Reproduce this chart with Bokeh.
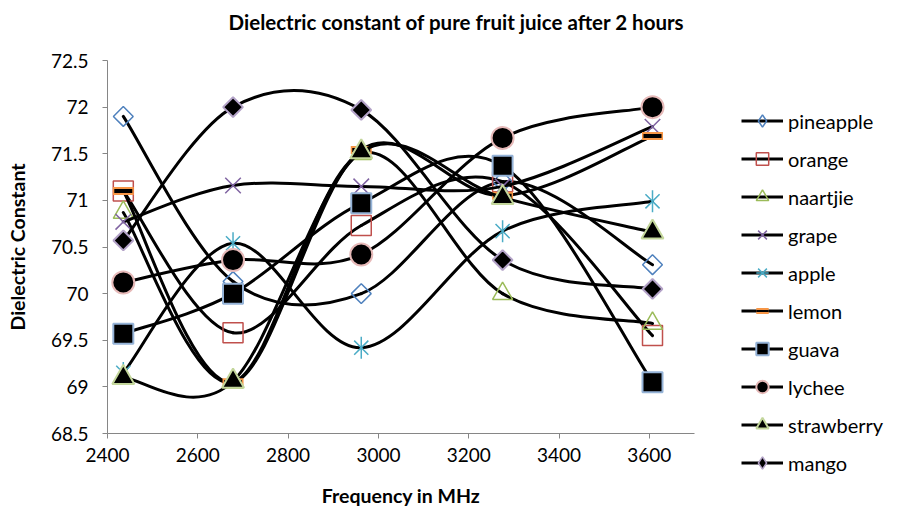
import numpy as np
from bokeh.plotting import figure
from bokeh.layouts import row, column
from bokeh.models import Range1d, FixedTicker, Legend, LegendItem, Label
from bokeh.embed import file_html
from bokeh.resources import INLINE

# ---------------- data ----------------
freq = [2435, 2678, 2962, 3275, 3607]

pineapple = [71.90, 70.13, 70.00, 71.20, 70.31]
orange = [71.10, 69.58, 70.73, 71.20, 69.55]
naartjie = [70.87, 69.05, 71.50, 70.00, 69.68]
grape = [70.77, 71.16, 71.15, 71.15, 71.79]
apple = [69.15, 70.54, 69.42, 70.67, 70.99]
lemon = [71.10, 69.05, 71.54, 71.05, 71.69]
guava = [69.57, 70.00, 70.97, 71.37, 69.05]
lychee = [70.12, 70.36, 70.42, 71.67, 72.00]
strawberry = [69.10, 69.06, 71.52, 71.03, 70.66]
mango = [70.57, 72.00, 71.97, 70.36, 70.05]

series_names = ["pineapple", "orange", "naartjie", "grape", "apple",
                "lemon", "guava", "lychee", "strawberry", "mango"]
series_values = [pineapple, orange, naartjie, grape, apple,
                 lemon, guava, lychee, strawberry, mango]

x_ticks = [2400, 2600, 2800, 3000, 3200, 3400, 3600]
y_ticks = [68.5, 69, 69.5, 70, 70.5, 71, 71.5, 72, 72.5]
y_tick_labels = ["68.5", "69", "69.5", "70", "70.5", "71", "71.5", "72", "72.5"]

title_text = "Dielectric constant of pure fruit juice after 2 hours"
x_title = "Frequency in MHz"
y_title = "Dielectric Constant"

FONT = "Lato"
AXIS_GRAY = "#868686"

# marker styles per series (plot)
marker_styles = {
    "pineapple": [dict(marker="square", angle=np.pi / 4, size=14, fill_color=None,
                       line_color="#4F81BD", line_width=1.5)],
    "orange": [dict(marker="square", size=20, fill_color=None,
                    line_color="#C0504D", line_width=1.5)],
    "naartjie": [dict(marker="triangle", size=20, fill_color=None,
                      line_color="#9BBB59", line_width=1.5)],
    "grape": [dict(marker="x", size=22, line_color="#8064A2", line_width=1.5)],
    "apple": [dict(marker="x", size=20, line_color="#4BACC6", line_width=1.5),
              dict(marker="dash", angle=np.pi / 2, size=22, line_color="#4BACC6",
                   line_width=1.5)],
    "lemon": [dict(marker="dash", size=21, line_color="#F79646", line_width=8),
              dict(marker="dash", size=18, line_color="black", line_width=4)],
    "guava": [dict(marker="square", size=20, fill_color="black",
                   line_color="#95B3D7", line_width=2)],
    "lychee": [dict(marker="circle", size=22, fill_color="black",
                    line_color="#E6B9B8", line_width=2)],
    "strawberry": [dict(marker="triangle", size=22, fill_color="black",
                        line_color="#C3D69B", line_width=2)],
    "mango": [dict(marker="square", angle=np.pi / 4, size=14, fill_color="black",
                   line_color="#B3A2C7", line_width=2)],
}
# legend swatches (the legend does not rotate markers, so diamonds are used there)
legend_styles = dict(marker_styles)
legend_styles["pineapple"] = [dict(marker="diamond", size=14, fill_color=None,
                                   line_color="#4F81BD", line_width=1.5)]
legend_styles["mango"] = [dict(marker="diamond", size=14, fill_color="black",
                               line_color="#B3A2C7", line_width=1.5)]
legend_styles["lemon"] = [dict(marker="dash", size=14, line_color="#F79646", line_width=6),
                          dict(marker="dash", size=12, line_color="black", line_width=2)]


def smooth_segments(xs, ys):
    """Control points of an Excel-like smoothed line (Catmull-Rom as cubic Bezier)."""
    n = len(xs)
    pts = list(zip(xs, ys))
    seg = dict(x0=[], y0=[], x1=[], y1=[], cx0=[], cy0=[], cx1=[], cy1=[])
    for i in range(n - 1):
        p0 = pts[i - 1] if i > 0 else pts[i]
        p1 = pts[i]
        p2 = pts[i + 1]
        p3 = pts[i + 2] if i + 2 < n else pts[i + 1]
        seg["x0"].append(p1[0]); seg["y0"].append(p1[1])
        seg["x1"].append(p2[0]); seg["y1"].append(p2[1])
        seg["cx0"].append(p1[0] + (p2[0] - p0[0]) / 6.0)
        seg["cy0"].append(p1[1] + (p2[1] - p0[1]) / 6.0)
        seg["cx1"].append(p2[0] - (p3[0] - p1[0]) / 6.0)
        seg["cy1"].append(p2[1] - (p3[1] - p1[1]) / 6.0)
    return seg


def blank_fig(w, h):
    f = figure(width=w, height=h, output_backend="svg", toolbar_location=None,
               x_range=Range1d(0, 1), y_range=Range1d(0, 1),
               x_axis_location=None, y_axis_location=None, min_border=0)
    f.outline_line_color = None
    f.xgrid.grid_line_color = None
    f.ygrid.grid_line_color = None
    f.frame_align = False
    return f


# ---------------- title strip ----------------
TITLE_H = 44
tfig = blank_fig(899, TITLE_H)
tfig.add_layout(Label(x=456, y=TITLE_H - 21, x_units="screen", y_units="screen",
                      text=title_text, text_align="center", text_baseline="middle",
                      text_font=FONT, text_font_size="20.5px", text_font_style="bold",
                      text_color="black"))

# ---------------- main plot ----------------
MAIN_H = 523 - TITLE_H
MAIN_W = 710
p = figure(width=MAIN_W, height=MAIN_H, output_backend="svg", toolbar_location=None,
           x_range=Range1d(2400, 3700), y_range=Range1d(68.5, 72.5),
           min_border_left=107, min_border_right=MAIN_W - 694,
           min_border_top=60 - TITLE_H, min_border_bottom=523 - 433)
p.outline_line_color = None
p.xgrid.grid_line_color = None
p.ygrid.grid_line_color = None
p.frame_align = False

for ax in (p.xaxis[0], p.yaxis[0]):
    ax.axis_line_color = AXIS_GRAY
    ax.axis_line_width = 1
    ax.major_tick_line_color = AXIS_GRAY
    ax.major_tick_out = 5
    ax.major_tick_in = 0
    ax.minor_tick_line_color = None
    ax.major_label_text_font = FONT
    ax.major_label_text_font_size = "19px"
    ax.major_label_text_color = "black"
    ax.axis_label_text_font = FONT
    ax.axis_label_text_font_size = "19.5px"
    ax.axis_label_text_font_style = "bold"
    ax.axis_label_text_color = "black"

p.xaxis.ticker = FixedTicker(ticks=x_ticks)
p.yaxis.ticker = FixedTicker(ticks=y_ticks)
p.yaxis.major_label_overrides = {t: s for t, s in zip(y_ticks, y_tick_labels)}
p.xaxis.major_label_standoff = 9
p.yaxis.major_label_standoff = 14
p.xaxis.axis_label = x_title
p.yaxis.axis_label = y_title
p.xaxis.axis_label_standoff = 19
p.yaxis.axis_label_standoff = 19

LW = 3
for name, vals in zip(series_names, series_values):
    seg = smooth_segments(freq, vals)
    p.bezier(line_color="black", line_width=LW, line_cap="round", **seg)
    for st in marker_styles[name]:
        p.scatter(freq, vals, **st)

# ---------------- legend strip ----------------
LEG_W = 899 - MAIN_W
lfig = blank_fig(LEG_W, MAIN_H)
items = []
for name in series_names:
    rs = [lfig.line([-10, -9], [-10, -9], line_color="black", line_width=LW)]
    for st in legend_styles[name]:
        rs.append(lfig.scatter([-10], [-10], **st))
    items.append(LegendItem(label=name, renderers=rs))

legend = Legend(items=items, location=(741 - MAIN_W, 45), orientation="vertical",
                glyph_width=42, glyph_height=31, label_height=31, spacing=7,
                label_standoff=5, padding=0, margin=0,
                border_line_color=None, background_fill_alpha=0,
                label_text_font=FONT, label_text_font_size="20px",
                label_text_color="black")
lfig.add_layout(legend, "center")

layout = column(tfig, row(p, lfig))
open("out.html", "w").write(file_html(layout, INLINE))
